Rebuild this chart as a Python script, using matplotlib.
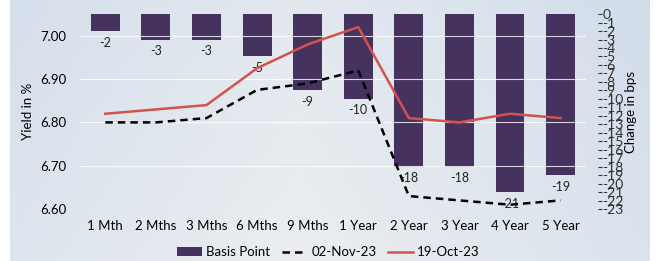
import numpy as np
import matplotlib
matplotlib.use("Agg")
import matplotlib.pyplot as plt
from matplotlib.colors import LinearSegmentedColormap

CATEGORIES = ['1 Mth', '2 Mths', '3 Mths', '6 Mths', '9 Mths',
              '1 Year', '2 Year', '3 Year', '4 Year', '5 Year']
YIELD_NOV02 = [6.80, 6.80, 6.81, 6.875, 6.89, 6.92, 6.63, 6.62, 6.61, 6.62]
YIELD_OCT19 = [6.82, 6.83, 6.84, 6.925, 6.98, 7.02, 6.81, 6.80, 6.82, 6.81]
BASIS_POINT = [-2, -3, -3, -5, -9, -10, -18, -18, -21, -19]
LEFT_TICKS = [6.60, 6.70, 6.80, 6.90, 7.00]

plt.rcParams['font.family'] = ['Lato', 'DejaVu Sans']

fig = plt.figure(figsize=(6.57, 2.61), dpi=100)

# background gradient panel
bg = fig.add_axes([0, 0, 1, 1], zorder=-10)
grad = np.linspace(0, 1, 256)
xx, yy = np.meshgrid(grad, grad)
val = np.clip(0.55 * np.abs(xx - 0.45) * 2 + 0.3 * (1 - yy), 0, 1)
cmap = LinearSegmentedColormap.from_list('bg', ['#eceef1', '#cfdbea'])
bg.imshow(val, cmap=cmap, aspect='auto', extent=[0.015, 0.988, 0, 1], vmin=0, vmax=1)
bg.set_xlim(0, 1)
bg.set_ylim(0, 1)
bg.axis('off')

ax = fig.add_axes([0.1218, 0.199, 0.770, 0.747])
ax.patch.set_alpha(0)
ax2 = ax.twinx()

x = np.arange(len(CATEGORIES))

# bars on the secondary axis
bars = ax2.bar(x, BASIS_POINT, width=0.57, color='#46325f', label='Basis Point', zorder=1)
for xi, v in zip(x, BASIS_POINT):
    ax2.annotate(str(v), (xi, v), xytext=(0, -4), textcoords='offset points',
                 ha='center', va='top', fontsize=9, color='#222222')
ax2.set_ylim(-23, 0)
ax2.set_yticks(range(0, -24, -1))
ax2.set_yticklabels([str(t) for t in range(0, -24, -1)], fontsize=9.5)
ax2.spines['right'].set_position(('outward', 9))
for s in ax2.spines.values():
    s.set_visible(False)
ax2.tick_params(axis='y', length=3, pad=0, colors='#333333')
ax2.set_ylabel('Change in bps', fontsize=9.5, labelpad=1)

# lines on the primary axis, drawn above bars
ax.set_zorder(ax2.get_zorder() + 1)
l1, = ax.plot(x, YIELD_NOV02, color='black', linestyle=(0, (3, 2)), linewidth=1.8, label='02-Nov-23')
l2, = ax.plot(x, YIELD_OCT19, color='#d2534e', linewidth=1.8, label='19-Oct-23')
ax.set_ylim(6.60, 7.05)
ax.set_yticks(LEFT_TICKS)
ax.set_yticklabels([f'{t:.2f}' for t in LEFT_TICKS], fontsize=9.5)
ax.set_xlim(-0.5, len(CATEGORIES) - 0.5)
ax.set_xticks(x)
ax.set_xticklabels(CATEGORIES, fontsize=9.5)
ax.tick_params(length=0, pad=8)
ax.tick_params(axis='y', pad=10)
ax.grid(axis='y', color='white', linewidth=0.8, alpha=0.8)
ax2.grid(False)
ax.set_axisbelow(True)
for s in ax.spines.values():
    s.set_visible(False)
ax.set_ylabel('Yield in %', fontsize=9.5, labelpad=4)

fig.legend([bars, l1, l2], ['Basis Point', '02-Nov-23', '19-Oct-23'],
           loc='lower center', bbox_to_anchor=(0.5, -0.035), ncol=3, frameon=False,
           fontsize=9.5, handlelength=1.9, handletextpad=0.3, columnspacing=0.9)

fig.savefig('out.png', dpi=100)
